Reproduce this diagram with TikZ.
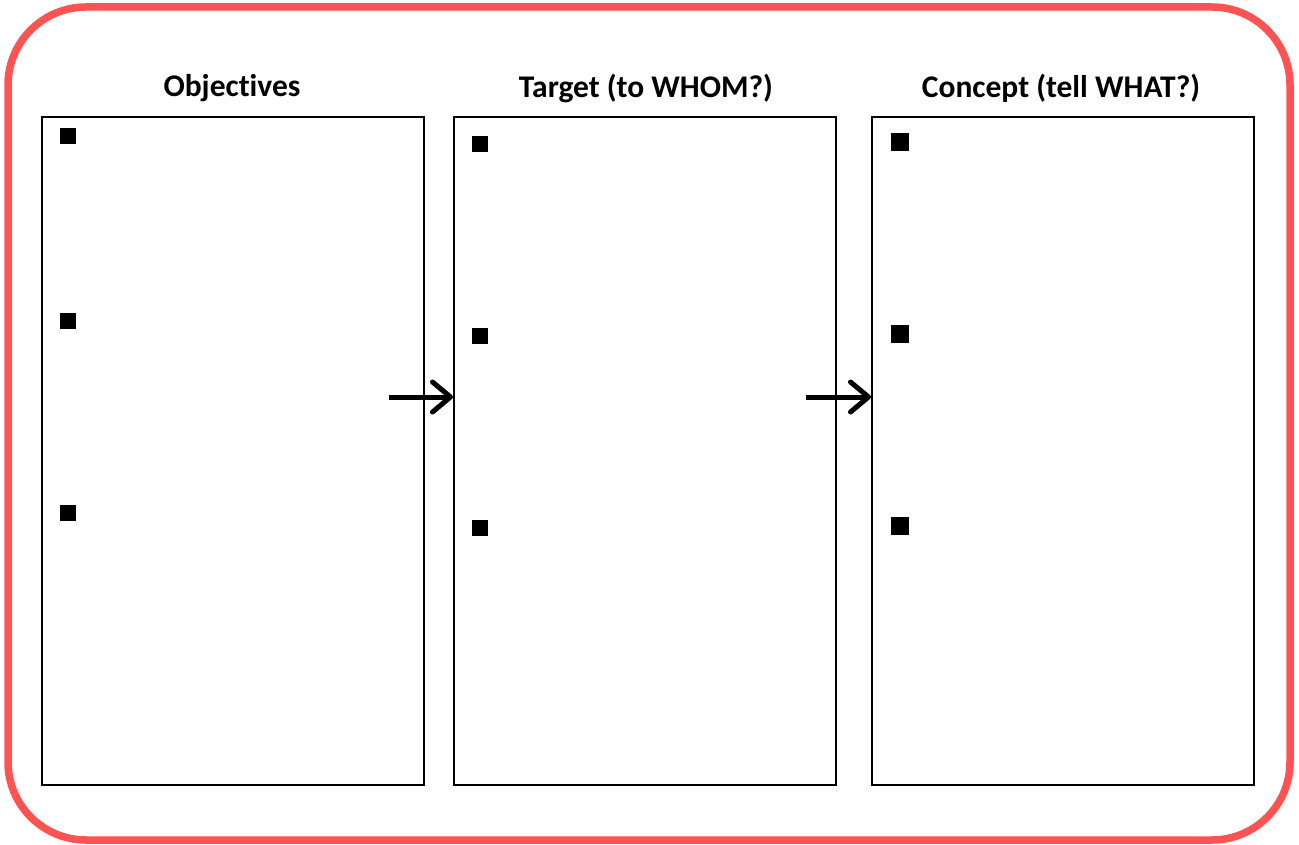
\documentclass[tikz,border=0pt]{standalone}
\usepackage{fontspec}
\setmainfont{Carlito}[Ligatures=NoCommon]
\usetikzlibrary{arrows.meta}
\definecolor{frame}{HTML}{FF5353}
\begin{document}
\begin{tikzpicture}[x=1pt,y=-1pt,
  panel/.style={draw=black,line width=1.6pt,inner sep=0pt,anchor=north west},
  heading/.style={font=\bfseries\fontsize{31.5}{34}\selectfont,anchor=center},
  bullet/.style={fill=black,inner sep=0pt,minimum size=#1},
  flow/.style={line width=5pt,-{Straight Barb[length=18pt,width=30pt,line cap=round,line join=round]}}]
  \useasboundingbox (0,0) rectangle (1299,845);
  % outer frame
  \draw[frame,line width=7.5pt,rounded corners=78pt] (8,7) rectangle (1290,840);
  % three panels
  \node[panel,minimum width=382pt,minimum height=668pt] (p1) at (41,116) {};
  \node[panel,minimum width=382pt,minimum height=668pt] (p2) at (453,116) {};
  \node[panel,minimum width=382pt,minimum height=668pt] (p3) at (871,116) {};
  % headings
  \node[heading] (h1) at (232,88) {Objectives};
  \node[heading] (h2) at (646,88) {Target (to WHOM?)};
  \node[heading] (h3) at (1061,88) {Concept (tell WHAT?)};
  % bullets
  \node[bullet=16pt] (b11) at (68,136) {};
  \node[bullet=16pt] (b12) at (68,321) {};
  \node[bullet=16pt] (b13) at (68,513) {};
  \node[bullet=16pt] (b21) at (480,144) {};
  \node[bullet=16pt] (b22) at (480,336) {};
  \node[bullet=16pt] (b23) at (480,528) {};
  \node[bullet=18pt] (b31) at (900,142) {};
  \node[bullet=18pt] (b32) at (900,334) {};
  \node[bullet=18pt] (b33) at (900,526) {};
  % connectors
  \coordinate (a1) at (389,397);
  \coordinate (a2) at (806,397);
  \draw[flow] (a1) -- (p2.west |- a1);
  \draw[flow] (a2) -- (p3.west |- a2);
\end{tikzpicture}
\end{document}
